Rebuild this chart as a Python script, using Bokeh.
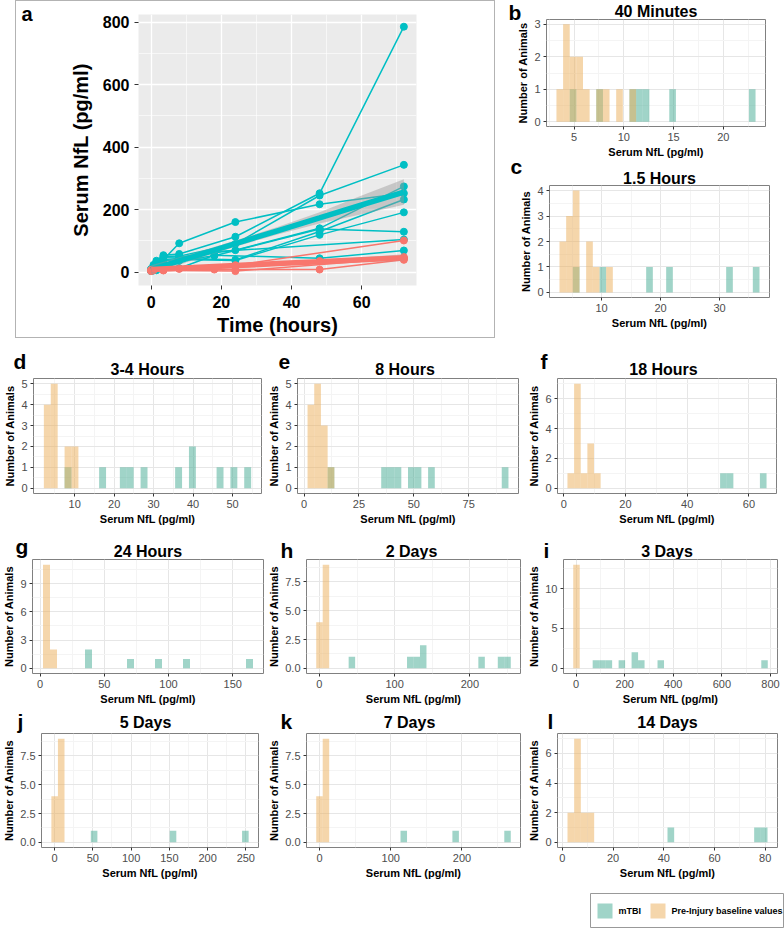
import math
from bokeh.plotting import figure
from bokeh.layouts import row, column
from bokeh.models import FixedTicker, Range1d, Spacer
from bokeh.embed import file_html
from bokeh.resources import INLINE
from bokeh.core.properties import value

FONT = "Liberation Sans"
TEAL = "#00bfc4"
RED = "#f8766d"
HIST_TBI = "#41aa92"
HIST_TAN = "#ecae57"
BOX = "1px solid #b3b3b3"

# ---------------- Panel a: serum NfL over time ----------------
time_points = [0, 0.67, 1.5, 3.5, 8, 18, 24, 48, 72]
mtbi_animals = [
    [4, 11.6, 21.5, 40, 92, None, 160, 217, 252],
    [5, 22.9, 36.2, 54, 58, None, 113, 252, 785],
    [6, 14.9, 31.7, 50, 51, None, 90, 245, 343],
    [4, 12.2, 18.1, 47, 48, None, 70, 140, 274],
    [8, 10.9, 10.2, 40, 43, None, 39, 130, 232],
    [5, 7.6, 5.7, 36.5, 40, None, 37, 119, 191],
    [9, 4.9, None, 28, 36, 52, None, 138, 129],
    [10, None, None, 24.5, 12, 54, None, 44, 69],
    [3, None, None, 23, None, 65, None, None, 104],
    [6, None, None, 17, None, None, None, None, None],
    [7, None, None, 8.5, None, None, None, None, None],
]
control_animals = [
    [5, None, None, 6, None, None, 22, None, 101],
    [4, None, None, None, None, 8, None, 8, 39],
    [6, None, None, None, None, None, 3, None, 45],
    [3, None, None, 5, 10, None, None, 35, 42],
    [7, 6, None, None, None, None, 15, None, 48],
]
fit_times = [0, 12, 24, 36, 48, 60, 72]
mtbi_fit = [8, 49, 91, 132, 173, 215, 256]
mtbi_fit_lo = [-6, 38, 81, 120, 155, 185, 215]
mtbi_fit_hi = [22, 60, 101, 144, 191, 245, 297]
ctrl_fit = [8, 14.3, 20.7, 27, 33.3, 39.7, 46]
ctrl_fit_lo = [2, 10, 17, 23, 28, 32, 35]
ctrl_fit_hi = [14, 18.6, 24.4, 31, 38.6, 47.4, 57]
a_xticks = [0, 20, 40, 60]
a_yticks = [0, 200, 400, 600, 800]

# ---------------- Histograms (bin index -> count) ----------------
b_start, b_width = 3.23, 0.667
b_tan_bins, b_tan_counts = [0, 1, 2, 3, 4, 6, 7, 9, 11], [1, 3, 2, 2, 1, 1, 1, 1, 1]
b_tbi_bins, b_tbi_counts = [2, 6, 11, 12, 13, 17, 29], [1, 1, 1, 1, 1, 1, 1]
b_xticks, b_yticks = [5, 10, 15, 20], [0, 1, 2, 3]

c_start, c_width = 2.88, 1.13
c_tan_bins, c_tan_counts = [0, 1, 2, 4, 5, 7], [2, 3, 4, 2, 1, 1]
c_tbi_bins, c_tbi_counts = [2, 6, 13, 16, 25, 29], [1, 1, 1, 1, 1, 1]
c_xticks, c_yticks = [10, 20, 30], [0, 1, 2, 3, 4]

d_start, d_width = 2.2, 1.75
d_tan_bins, d_tan_counts = [0, 1, 3, 4], [4, 5, 2, 2]
d_tbi_bins, d_tbi_counts = [3, 8, 11, 12, 14, 19, 21, 25, 27, 29], [1, 1, 1, 1, 1, 1, 2, 1, 1, 1]
d_xticks, d_yticks = [10, 20, 30, 40, 50], [0, 1, 2, 3, 4, 5]

e_start, e_width = 1.6, 3.05
e_tan_bins, e_tan_counts = [0, 1, 2, 3], [4, 5, 3, 1]
e_tbi_bins, e_tbi_counts = [3, 11, 12, 13, 15, 16, 18, 29], [1, 1, 1, 1, 1, 1, 1, 1]
e_xticks, e_yticks = [0, 25, 50, 75], [0, 1, 2, 3, 4, 5]

f_start, f_width = 1.2, 2.15
f_tan_bins, f_tan_counts = [0, 1, 2, 3, 4], [1, 7, 1, 3, 1]
f_tbi_bins, f_tbi_counts = [23, 24, 29], [1, 1, 1]
f_xticks, f_yticks = [0, 20, 40, 60], [0, 2, 4, 6]

g_start, g_width = 2.3, 5.45
g_tan_bins, g_tan_counts = [0, 1], [11, 2]
g_tbi_bins, g_tbi_counts = [6, 12, 16, 20, 29], [2, 1, 1, 1, 1]
g_xticks, g_yticks = [0, 50, 100, 150], [0, 3, 6, 9]

h_start, h_width = -4.2, 8.62
h_tan_bins, h_tan_counts = [0, 1], [4, 9]
h_tbi_bins, h_tbi_counts = [5, 14, 15, 16, 25, 28, 29], [1, 1, 1, 2, 1, 1, 1]
h_xticks, h_yticks = [0, 100, 200], [0, 2.5, 5, 7.5]

i_start, i_width = -12, 26.7
i_tan_bins, i_tan_counts = [0], [13]
i_tbi_bins, i_tbi_counts = [3, 4, 5, 7, 9, 10, 13, 29], [1, 1, 1, 1, 2, 1, 1, 1]
i_xticks, i_yticks = [0, 200, 400, 600, 800], [0, 5, 10]

j_start, j_width = -4.3, 8.6
j_tan_bins, j_tan_counts = [0, 1], [4, 9]
j_tbi_bins, j_tbi_counts = [6, 18, 29], [1, 1, 1]
j_xticks, j_yticks = [0, 50, 100, 150, 200, 250], [0, 2.5, 5, 7.5]

k_start, k_width = -4.5, 9.1
k_tan_bins, k_tan_counts = [0, 1], [4, 9]
k_tbi_bins, k_tbi_counts = [13, 21, 29], [1, 1, 1]
k_xticks, k_yticks = [0, 100, 200], [0, 2.5, 5, 7.5]

l_start, l_width = 2.0, 2.63
l_tan_bins, l_tan_counts = [0, 1, 2, 3], [2, 7, 2, 2]
l_tbi_bins, l_tbi_counts = [15, 28, 29], [1, 1, 1]
l_xticks, l_yticks = [0, 20, 40, 60, 80], [0, 2, 4, 6]

legend_labels = ["mTBI", "Pre-Injury baseline values"]


def minors(ticks):
    step = ticks[1] - ticks[0]
    return [t - step / 2 for t in ticks] + [ticks[-1] + step / 2]


def make_header(w, top, bottom, texts):
    """Transparent strip (abs rows top..bottom) holding letter and title."""
    h = bottom - top
    p = figure(width=w, height=h, min_border=0, x_range=Range1d(0, w),
               y_range=Range1d(h, 0), x_axis_type=None, y_axis_type=None,
               output_backend="svg", toolbar_location=None, title=None,
               frame_align=False, border_fill_alpha=0, background_fill_alpha=0)
    p.grid.visible = False
    p.outline_line_color = None
    for x, y, t, size, align in texts:
        # the renderer draws the baseline about 0.32 em lower than asked
        p.text(x=[x], y=[y - top - 0.32 * size], text=[t], text_font=value(FONT),
               text_font_size="%dpx" % size, text_font_style="bold",
               text_align=align, text_baseline="alphabetic", text_color="black")
    return p


def header_span(texts, rt, ft):
    top = min([rt] + [math.floor(y - 0.95 * s) for _, y, _, s, _ in texts])
    bottom = max([ft - 1] + [math.ceil(y + 0.28 * s) for _, y, _, s, _ in texts])
    return top, bottom


def make_hist(reg, frm, start, width, tan_bins, tan_counts, tbi_bins, tbi_counts,
              xticks, yticks, title, title_y, letter, letter_xy):
    rl, rt, rr, rb = reg
    fl, ft, fr, fb = frm
    texts = [((fl + fr) / 2 - rl, title_y, title, 16, "center"),
             (letter_xy[0] - rl, letter_xy[1], letter, 21, "left")]
    htop, hbot = header_span(texts, rt, ft)
    header = make_header(rr - rl, htop, hbot, texts)
    header.styles = {"margin-top": "%dpx" % (htop - rt)}
    lefts = [start + width * k for k in tan_bins + tbi_bins]
    lo, hi = min(lefts), max(lefts) + width
    pad = 0.05 * (hi - lo)
    m = max(tan_counts + tbi_counts)
    p = figure(width=rr - rl, height=rb - ft + 1, min_border_left=fl - rl,
               min_border_right=rr - fr, min_border_top=1,
               min_border_bottom=rb - fb, x_range=Range1d(lo - pad, hi + pad),
               y_range=Range1d(-0.05 * m, 1.05 * m), output_backend="svg",
               toolbar_location=None, title=None, frame_align=False,
               border_fill_alpha=0)
    p.styles = {"margin-top": "%dpx" % ((ft - 1) - hbot)}
    p.xaxis.ticker = FixedTicker(ticks=xticks, minor_ticks=minors(xticks))
    p.yaxis.ticker = FixedTicker(ticks=yticks, minor_ticks=minors(yticks))
    if isinstance(yticks[1], float):
        p.yaxis.major_label_overrides = {t: "%.1f" % t for t in yticks}
    for g in (p.xgrid, p.ygrid):
        g.grid_line_color = "#e6e6e6"
        g.minor_grid_line_color = "#f4f4f4"
    for ax in (p.xaxis, p.yaxis):
        ax.axis_line_color = None
        ax.major_tick_line_color = "#333333"
        ax.major_tick_out = 3
        ax.major_tick_in = 0
        ax.minor_tick_line_color = None
        ax.major_label_text_font = FONT
        ax.major_label_text_font_size = "11px"
        ax.major_label_text_color = "#4d4d4d"
        ax.major_label_standoff = 2
        ax.axis_label_text_font = FONT
        ax.axis_label_text_font_size = "11px"
        ax.axis_label_text_font_style = "bold"
        ax.axis_label_text_color = "black"
        ax.axis_label_standoff = 2
    p.xaxis.axis_label = "Serum NfL (pg/ml)"
    p.yaxis.axis_label = "Number of Animals"
    p.outline_line_color = "#808080"
    p.outline_line_width = 1
    p.quad(left=[start + width * k for k in tbi_bins],
           right=[start + width * (k + 1) for k in tbi_bins],
           bottom=0, top=tbi_counts, fill_color=HIST_TBI, fill_alpha=0.5,
           line_color=None)
    p.quad(left=[start + width * k for k in tan_bins],
           right=[start + width * (k + 1) for k in tan_bins],
           bottom=0, top=tan_counts, fill_color=HIST_TAN, fill_alpha=0.5,
           line_color=None)
    return column(header, p)


# ---------------- Panel a ----------------
a_texts = [(5, 19, "a", 20, "left")]
a_top, a_bot = header_span(a_texts, 0, 14)
a_head = make_header(480, a_top, a_bot, a_texts)
a_head.styles = {"border-top": BOX, "border-left": BOX, "border-right": BOX,
                 "box-sizing": "border-box"}
pa = figure(width=480, height=338 - 14, min_border_left=122, min_border_right=80,
            min_border_top=0, min_border_bottom=43,
            x_range=Range1d(-3.6, 75.6), y_range=Range1d(-43, 824),
            output_backend="svg", toolbar_location=None, title=None,
            background_fill_color="#ebebeb", frame_align=False,
            border_fill_alpha=0)
pa.styles = {"border-bottom": BOX, "border-left": BOX, "border-right": BOX,
             "box-sizing": "border-box", "margin-top": "%dpx" % (14 - a_bot)}
pa.xaxis.ticker = FixedTicker(ticks=a_xticks, minor_ticks=minors(a_xticks))
pa.yaxis.ticker = FixedTicker(ticks=a_yticks, minor_ticks=minors(a_yticks))
for g in (pa.xgrid, pa.ygrid):
    g.grid_line_color = "white"
    g.grid_line_width = 1.3
    g.minor_grid_line_color = "white"
    g.minor_grid_line_width = 0.6
for ax in (pa.xaxis, pa.yaxis):
    ax.axis_line_color = None
    ax.major_tick_line_color = "#333333"
    ax.major_tick_out = 4
    ax.major_tick_in = 0
    ax.minor_tick_line_color = None
    ax.major_label_text_font = FONT
    ax.major_label_text_font_size = "16px"
    ax.major_label_text_font_style = "bold"
    ax.major_label_text_color = "black"
    ax.axis_label_text_font = FONT
    ax.axis_label_text_font_size = "20px"
    ax.axis_label_text_font_style = "bold"
    ax.axis_label_text_color = "black"
pa.yaxis.major_label_standoff = 5
pa.xaxis.major_label_standoff = 6
pa.yaxis.axis_label_standoff = 8
pa.xaxis.axis_label_standoff = 3
pa.xaxis.axis_label = "Time (hours)"
pa.yaxis.axis_label = "Serum NfL (pg/ml)"
pa.outline_line_color = None

for group, col in ((mtbi_animals, TEAL), (control_animals, RED)):
    for vals in group:
        t = [tp for tp, v in zip(time_points, vals) if v is not None]
        v = [v for v in vals if v is not None]
        pa.line(t, v, line_color=col, line_width=1.5)
        pa.scatter(t, v, size=7, fill_color=col, line_color=col)
pa.varea(x=fit_times, y1=mtbi_fit_lo, y2=mtbi_fit_hi, fill_color="#999999", fill_alpha=0.45)
pa.varea(x=fit_times, y1=ctrl_fit_lo, y2=ctrl_fit_hi, fill_color="#999999", fill_alpha=0.45)
pa.line(fit_times, mtbi_fit, line_color=TEAL, line_width=5.5)
pa.line(fit_times, ctrl_fit, line_color=RED, line_width=5.5)

# ---------------- Histogram panels ----------------
pb = make_hist((495, 0, 784, 160), (546, 19, 765, 133), b_start, b_width,
               b_tan_bins, b_tan_counts, b_tbi_bins, b_tbi_counts,
               b_xticks, b_yticks, "40 Minutes", 16, "b", (508, 19))
pc = make_hist((495, 160, 784, 338), (549, 185, 769, 297), c_start, c_width,
               c_tan_bins, c_tan_counts, c_tbi_bins, c_tbi_counts,
               c_xticks, c_yticks, "1.5 Hours", 183, "c", (510, 173))
pd_ = make_hist((0, 338, 265, 530), (33, 378, 261, 493), d_start, d_width,
                d_tan_bins, d_tan_counts, d_tbi_bins, d_tbi_counts,
                d_xticks, d_yticks, "3-4 Hours", 374, "d", (13, 368))
pe = make_hist((265, 338, 525, 530), (291, 378, 518, 493), e_start, e_width,
               e_tan_bins, e_tan_counts, e_tbi_bins, e_tbi_counts,
               e_xticks, e_yticks, "8 Hours", 374, "e", (278, 368))
pf = make_hist((525, 338, 784, 530), (550, 378, 776, 493), f_start, f_width,
               f_tan_bins, f_tan_counts, f_tbi_bins, f_tbi_counts,
               f_xticks, f_yticks, "18 Hours", 374, "f", (540, 368))
pg = make_hist((0, 530, 265, 710), (32, 559, 263, 673), g_start, g_width,
               g_tan_bins, g_tan_counts, g_tbi_bins, g_tbi_counts,
               g_xticks, g_yticks, "24 Hours", 556, "g", (15, 553))
ph = make_hist((265, 530, 525, 710), (302, 559, 520, 673), h_start, h_width,
               h_tan_bins, h_tan_counts, h_tbi_bins, h_tbi_counts,
               h_xticks, h_yticks, "2 Days", 556, "h", (280, 557))
pi = make_hist((525, 530, 784, 710), (556, 559, 777, 673), i_start, i_width,
               i_tan_bins, i_tan_counts, i_tbi_bins, i_tbi_counts,
               i_xticks, i_yticks, "3 Days", 556, "i", (543, 557))
pj = make_hist((0, 710, 265, 885), (32, 733, 258, 847), j_start, j_width,
               j_tan_bins, j_tan_counts, j_tbi_bins, j_tbi_counts,
               j_xticks, j_yticks, "5 Days", 727, "j", (17, 728))
pk = make_hist((265, 710, 525, 885), (298, 733, 520, 847), k_start, k_width,
               k_tan_bins, k_tan_counts, k_tbi_bins, k_tbi_counts,
               k_xticks, k_yticks, "7 Days", 727, "k", (280, 728))
pl = make_hist((525, 710, 784, 885), (557, 733, 777, 847), l_start, l_width,
               l_tan_bins, l_tan_counts, l_tbi_bins, l_tbi_counts,
               l_xticks, l_yticks, "14 Days", 727, "l", (547, 728))

# ---------------- Legend ----------------
leg = figure(width=194, height=43, min_border_top=8, min_border_left=0,
             min_border_right=0, min_border_bottom=0, x_range=Range1d(0, 194),
             y_range=Range1d(0, 35), x_axis_type=None, y_axis_type=None,
             output_backend="svg", toolbar_location=None, title=None,
             frame_align=False)
leg.grid.visible = False
leg.outline_line_color = "#999999"
leg.quad(left=[7, 60], right=[22, 75], bottom=[10, 10], top=[25, 25],
         fill_color=[HIST_TBI, HIST_TAN], fill_alpha=0.5, line_color=None)
leg.text(x=[28, 81], y=[17.5, 17.5], text=legend_labels, text_font=value(FONT),
         text_font_size="9px", text_font_style="bold", text_baseline="middle",
         text_color="black")

layout = column(
    row(Spacer(width=15, height=338), column(a_head, pa), column(pb, pc)),
    row(pd_, pe, pf),
    row(pg, ph, pi),
    row(pj, pk, pl),
    row(Spacer(width=590, height=43), leg),
)

open("out.html", "w").write(file_html(layout, INLINE))
